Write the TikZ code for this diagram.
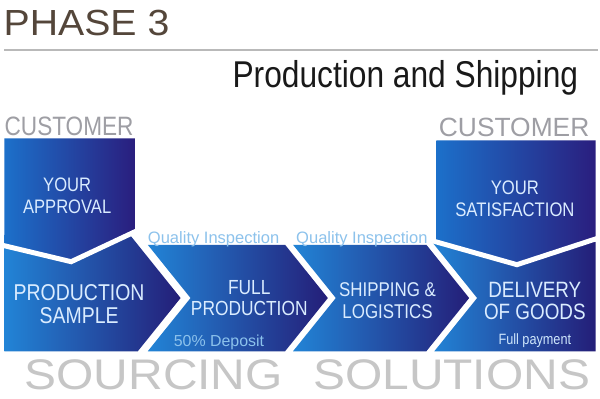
\documentclass[tikz,border=0pt]{standalone}
\usepackage{fontspec}
\setmainfont{Liberation Sans}
\newfontfamily\narrowfont[FakeStretch=0.85]{Liberation Sans}
\newfontfamily\widefont[FakeStretch=1.08]{Liberation Sans}
\newfontfamily\brandfont[FakeStretch=1.12]{Liberation Sans}
\usetikzlibrary{calc}

\definecolor{boxlight}{RGB}{34,132,214}
\definecolor{boxdark}{RGB}{36,30,120}
\definecolor{toplight}{RGB}{28,112,202}
\definecolor{topdark}{RGB}{42,30,126}
\definecolor{boxtext}{RGB}{218,236,255}
\definecolor{inspect}{RGB}{140,194,236}
\definecolor{custgray}{RGB}{158,158,164}
\definecolor{brandgray}{RGB}{198,198,198}
\definecolor{phasebrown}{RGB}{84,70,58}
\definecolor{rulegray}{RGB}{185,185,185}

\tikzset{
  stage/.style={left color=boxlight, right color=boxdark},
  approval/.style={left color=toplight, right color=topdark},
  gap/.style={white, line width=5pt, line join=miter},
  stagetext/.style={text=boxtext, align=center, inner sep=0pt},
  plaintext/.style={inner sep=0pt, anchor=base west},
}

\begin{document}
\begin{tikzpicture}[x=1pt, y=-1pt]
  \fill[white] (0,0) rectangle (600,400);

  % heading
  \node[plaintext, text=phasebrown, font=\widefont\fontsize{36.5}{40}\selectfont] (phase) at (2,35.7) {PHASE 3};
  \draw[rulegray, line width=2pt] (3,50.5) -- (599,50.5);
  \node[plaintext, text=black!90, font=\narrowfont\fontsize{37.5}{40}\selectfont] (title) at (232,88.3) {Production and Shipping};

  % bottom row of stages
  \shade[stage] (3,236) -- (129,236) -- (180,299.5) -- (137,353) -- (3,353) -- cycle;
  \shade[stage] (147,246) -- (285,246) -- (328,299.5) -- (285,353) -- (147,353) -- (190,299.5) -- cycle;
  \shade[stage] (293,246) -- (427,246) -- (470,299.5) -- (427,353) -- (293,353) -- (336,299.5) -- cycle;
  \shade[stage] (432.6,243) -- (597,243) -- (597,353) -- (435,353) -- (478,299.5) -- cycle;

  % customer boxes
  \shade[approval] (3,139) -- (134,139) -- (134,233) -- (70,263) -- (3,247) -- cycle;
  \draw[gap] (1,246.5) -- (70,263) -- (136,232);
  \shade[approval] (437,141) -- (597,141) -- (597,240) -- (518,266) -- (437,243) -- cycle;
  \draw[gap] (433,242) -- (518,266) -- (599,239.5);

  \node[plaintext, text=custgray, font=\narrowfont\fontsize{26.7}{30}\selectfont] (custleft) at (3,136) {CUSTOMER};
  \node[plaintext, anchor=base east, text=custgray, font=\fontsize{26.5}{30}\selectfont] (custright) at (591,137) {CUSTOMER};

  \node[stagetext, font=\narrowfont\fontsize{19.6}{22}\selectfont] (yourapproval) at (66,196.5) {YOUR\\APPROVAL};
  \node[stagetext, font=\narrowfont\fontsize{19.7}{22}\selectfont] (satisfaction) at (516,200) {YOUR\\SATISFACTION};

  \node[stagetext, font=\narrowfont\fontsize{23}{23}\selectfont] (sample) at (78,306) {PRODUCTION\\SAMPLE};
  \node[stagetext, font=\narrowfont\fontsize{20.5}{20.5}\selectfont] (fullprod) at (249,299.5) {FULL\\PRODUCTION};
  \node[stagetext, font=\narrowfont\fontsize{20}{22}\selectfont] (shipping) at (388,302) {SHIPPING \&\\LOGISTICS};
  \node[stagetext, font=\narrowfont\fontsize{22.3}{22.5}\selectfont] (delivery) at (536,302.5) {DELIVERY\\OF GOODS};

  \node[plaintext, text=inspect, font=\fontsize{16.6}{18}\selectfont] (inspectone) at (147,244.5) {Quality Inspection};
  \node[plaintext, text=inspect, font=\fontsize{16.6}{18}\selectfont] (inspecttwo) at (296,244.5) {Quality Inspection};
  \node[plaintext, text=inspect, font=\fontsize{16}{18}\selectfont] (deposit) at (173,348) {50\% Deposit};
  \node[plaintext, anchor=base, text=boxtext!85!inspect, font=\narrowfont\fontsize{15}{17}\selectfont] (payment) at (536,346) {Full payment};

  % brand line
  \node[plaintext, text=brandgray, font=\brandfont\fontsize{43}{46}\selectfont] (sourcing) at (23,391) {SOURCING};
  \node[plaintext, text=brandgray, font=\brandfont\fontsize{43}{46}\selectfont] (solutions) at (313,391) {SOLUTIONS};
\end{tikzpicture}
\end{document}
